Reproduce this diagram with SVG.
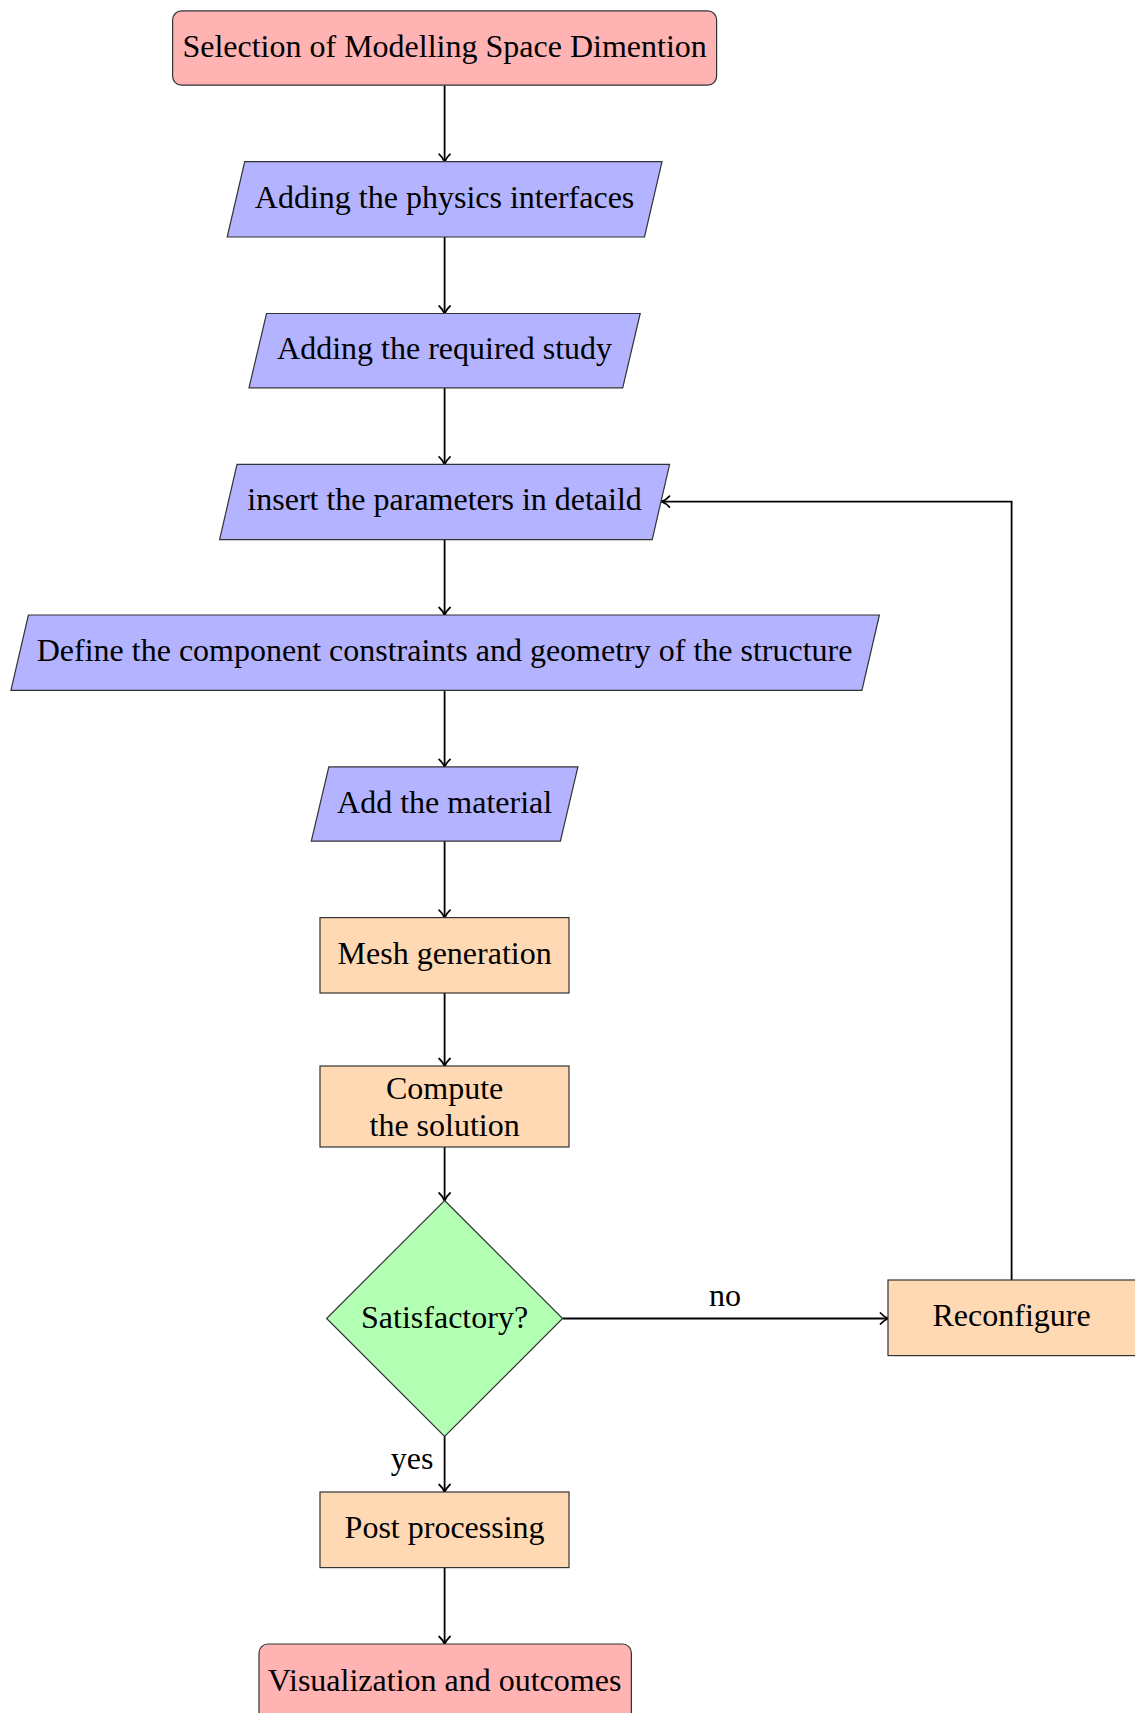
<svg xmlns="http://www.w3.org/2000/svg" width="1135" height="1713" viewBox="0 0 1135 1713">
<style>
text{font-family:"Liberation Serif","Times New Roman",serif;font-size:32px;fill:#000;text-anchor:middle}
.red{fill:#ffb3b3;stroke:#333;stroke-width:1.2}
.blue{fill:#b3b3ff;stroke:#333;stroke-width:1.2}
.org{fill:#ffd9b3;stroke:#333;stroke-width:1.2}
.grn{fill:#b3ffb3;stroke:#333;stroke-width:1.2}
.c{fill:none;stroke:#000;stroke-width:1.8;marker-end:url(#ah)}
</style>
<defs>
<marker id="ah" markerWidth="14" markerHeight="14" refX="11" refY="7" orient="auto" markerUnits="userSpaceOnUse">
<path d="M3.5,1.5 Q7,5.5 11.5,7 Q7,8.5 3.5,12.5" fill="none" stroke="#000" stroke-width="1.7" stroke-linecap="round"/>
</marker>
</defs>
<g id="connectors">
<line class="c" x1="444.6" y1="85.5" x2="444.6" y2="161.7"/>
<line class="c" x1="444.6" y1="237" x2="444.6" y2="313.5"/>
<line class="c" x1="444.6" y1="387.8" x2="444.6" y2="464.3"/>
<line class="c" x1="444.6" y1="539.6" x2="444.6" y2="615"/>
<line class="c" x1="444.6" y1="690.4" x2="444.6" y2="766.9"/>
<line class="c" x1="444.6" y1="841.1" x2="444.6" y2="917.6"/>
<line class="c" x1="444.6" y1="993" x2="444.6" y2="1066"/>
<line class="c" x1="444.6" y1="1147" x2="444.6" y2="1200.5"/>
<line class="c" x1="562.6" y1="1318.5" x2="888" y2="1318.5"/>
<polyline class="c" points="1011.6,1280 1011.6,501.6 662,501.6"/>
<line class="c" x1="444.6" y1="1436.5" x2="444.6" y2="1492"/>
<line class="c" x1="444.6" y1="1567.6" x2="444.6" y2="1644"/>
<text x="725" y="1306">no</text>
<text x="412" y="1469">yes</text>
</g>
<g id="n1"><rect class="red" x="172.6" y="10.9" width="544" height="74.3" rx="9"/><text x="444.6" y="56.5">Selection of Modelling Space Dimention</text></g>
<g id="n2"><polygon class="blue" points="244.7,161.7 662,161.7 644.5,237 227.2,237"/><text x="444.6" y="208">Adding the physics interfaces</text></g>
<g id="n3"><polygon class="blue" points="266.5,313.5 640.2,313.5 622.7,387.8 249,387.8"/><text x="444.6" y="359">Adding the required study</text></g>
<g id="n4"><polygon class="blue" points="237,464.3 669.6,464.3 652.2,539.6 219.6,539.6"/><text x="444.6" y="510">insert the parameters in detaild</text></g>
<g id="n5"><polygon class="blue" points="28.4,615 879.4,615 861.9,690.4 10.9,690.4"/><text x="444.6" y="661">Define the component constraints and geometry of the structure</text></g>
<g id="n6"><polygon class="blue" points="328.8,766.9 577.9,766.9 560.4,841.1 311.3,841.1"/><text x="444.6" y="813">Add the material</text></g>
<g id="n7"><rect class="org" x="320" y="917.6" width="249" height="75.4"/><text x="444.6" y="963.5">Mesh generation</text></g>
<g id="n8"><rect class="org" x="320" y="1066" width="249" height="81"/><text x="444.6" y="1099">Compute</text><text x="444.6" y="1136">the solution</text></g>
<g id="n9"><polygon class="grn" points="444.6,1200.5 562.6,1318.5 444.6,1436.5 326.6,1318.5"/><text x="444.6" y="1328">Satisfactory?</text></g>
<g id="n10"><rect class="org" x="888" y="1280" width="248" height="75.6"/><text x="1011.6" y="1326">Reconfigure</text></g>
<g id="n11"><rect class="org" x="320" y="1492" width="249" height="75.6"/><text x="444.6" y="1538">Post processing</text></g>
<g id="n12"><rect class="red" x="259" y="1644" width="372.4" height="90" rx="9"/><text x="444.6" y="1691">Visualization and outcomes</text></g>
</svg>
